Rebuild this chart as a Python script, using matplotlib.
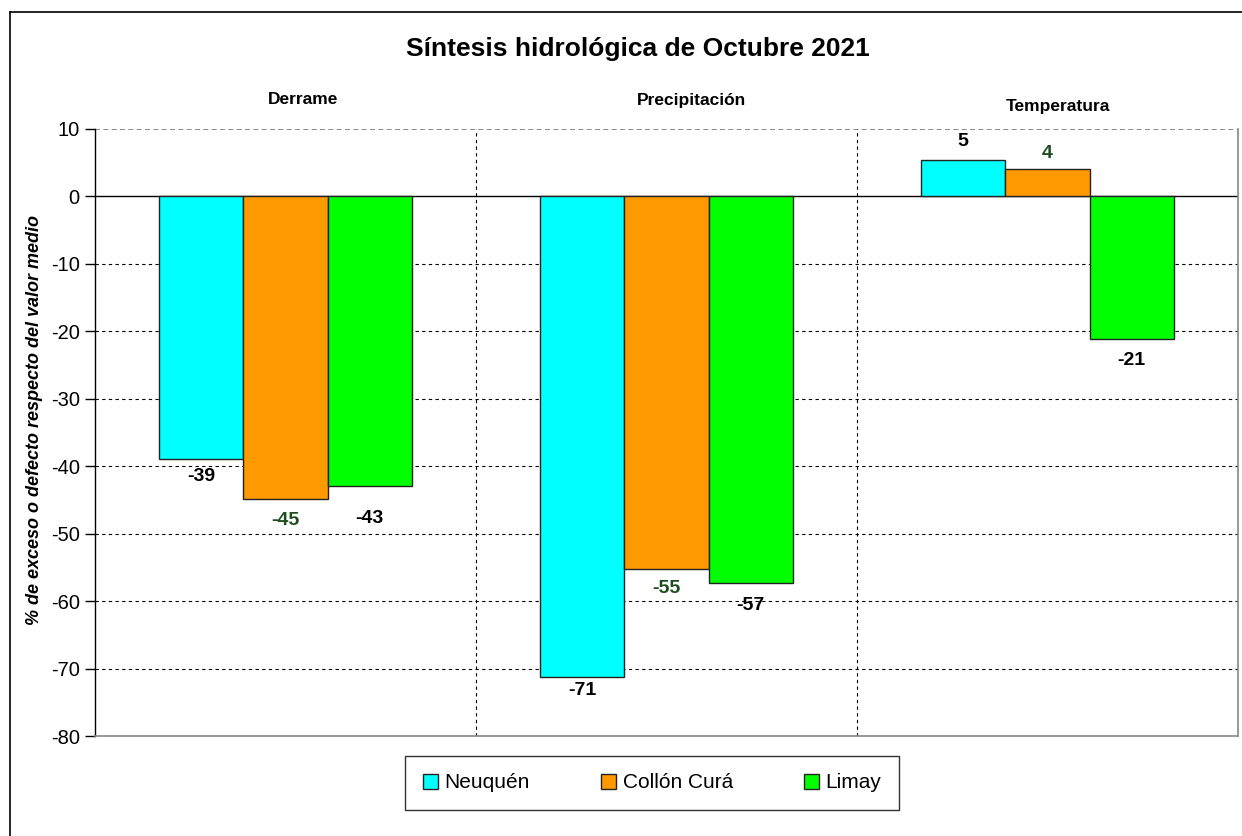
import matplotlib
matplotlib.use("Agg")
import matplotlib.pyplot as plt
from matplotlib.lines import Line2D
from matplotlib.patches import Patch
import numpy as np

plt.rcParams['font.family'] = ['Liberation Sans', 'DejaVu Sans']
plt.rcParams['axes.unicode_minus'] = False

categories = ["Derrame", "Precipitación", "Temperatura"]
series = ["Neuquén", "Collón Curá", "Limay"]
neuquen = [-39.0, -71.2, 5.4]
collon = [-44.8, -55.3, 4.1]
limay = [-43.0, -57.3, -21.2]
values = [neuquen, collon, limay]
colors = ["#00FFFF", "#FF9900", "#00FF00"]
label_colors = ["black", "#1E4D1E", "black"]
# label offsets (points) away from bar end, per series per category
label_off = [[12, 10, 13], [16, 14, 11], [23, 16, 15]]

W, H = 1242, 836
fig = plt.figure(figsize=(W / 100, H / 100), dpi=100)
ax = fig.add_axes([95 / W, (H - 736) / H, (1238 - 95) / W, (736 - 129) / H])

x = np.arange(len(categories))
bw = 0.221
for i, (vals, c) in enumerate(zip(values, colors)):
    xs = x + (i - 1) * bw
    ax.bar(xs, vals, width=bw, color=c, edgecolor="#222222", linewidth=1.0, zorder=3)
    for j, v in enumerate(vals):
        off = label_off[i][j]
        dy = off if v >= 0 else -off
        ax.annotate(f"{round(v):d}", (xs[j], v), xytext=(0, dy), textcoords="offset points",
                    ha="center", va="center", fontsize=14, fontweight="bold",
                    color=label_colors[i], zorder=4)

ax.set_xlim(-0.5, 2.5)
ax.set_ylim(-80, 10)
ax.set_yticks(np.arange(-80, 11, 10))
ax.tick_params(axis="y", labelsize=14.5, length=7, width=1, direction="out", pad=4)
ax.set_xticks([])

for yv in range(-70, 0, 10):
    ax.axhline(yv, color="black", linestyle=(0, (3, 3)), linewidth=0.8, zorder=1)
ax.axhline(10, color="#777777", linestyle=(0, (3, 2)), linewidth=1.2, zorder=1)
ax.axhline(0, color="black", linewidth=1.0, zorder=2)
for xv in [0.5, 1.5]:
    ax.axvline(xv, color="black", linestyle=(0, (3, 3)), linewidth=0.8, zorder=1)

ax.spines["left"].set_color("black")
ax.spines["left"].set_linewidth(1.0)
ax.spines["bottom"].set_color("#888888")
ax.spines["bottom"].set_linewidth(1.2)
ax.spines["right"].set_color("#888888")
ax.spines["right"].set_linewidth(1.2)
ax.spines["top"].set_visible(False)

fig.text(35 / W, 1 - 420 / H, "% de exceso o defecto respecto del valor medio", rotation=90,
         ha="center", va="center", fontsize=13, fontweight="bold", fontstyle="italic")

# group titles
title_pos = [(303, 100), (692, 100), (1058, 106)]
for cat, (px, py) in zip(categories, title_pos):
    fig.text(px / W, 1 - py / H, cat, ha="center", va="center", fontsize=12.5, fontweight="bold")

fig.text(638 / W, 1 - 49 / H, "Síntesis hidrológica de Octubre 2021", ha="center", va="center",
         fontsize=19, fontweight="bold")

# outer chart border
fig.add_artist(Line2D([10 / W, 10 / W], [0, 1 - 12 / H], transform=fig.transFigure, color="black", lw=1.2))
fig.add_artist(Line2D([10 / W, 1], [1 - 12 / H, 1 - 12 / H], transform=fig.transFigure, color="black", lw=1.2))

handles = [Patch(facecolor=c, edgecolor="#222222", label=s) for s, c in zip(series, colors)]
leg = fig.legend(handles=handles, loc="center", bbox_to_anchor=(652 / W, 1 - 783 / H), ncol=3,
                 fontsize=15, frameon=True, fancybox=False, edgecolor="black",
                 handlelength=0.75, handleheight=0.75, handletextpad=0.3, columnspacing=3.4,
                 borderpad=0.85, borderaxespad=0)
leg.get_frame().set_linewidth(1.0)

fig.savefig("out.png", dpi=100, facecolor="white")
